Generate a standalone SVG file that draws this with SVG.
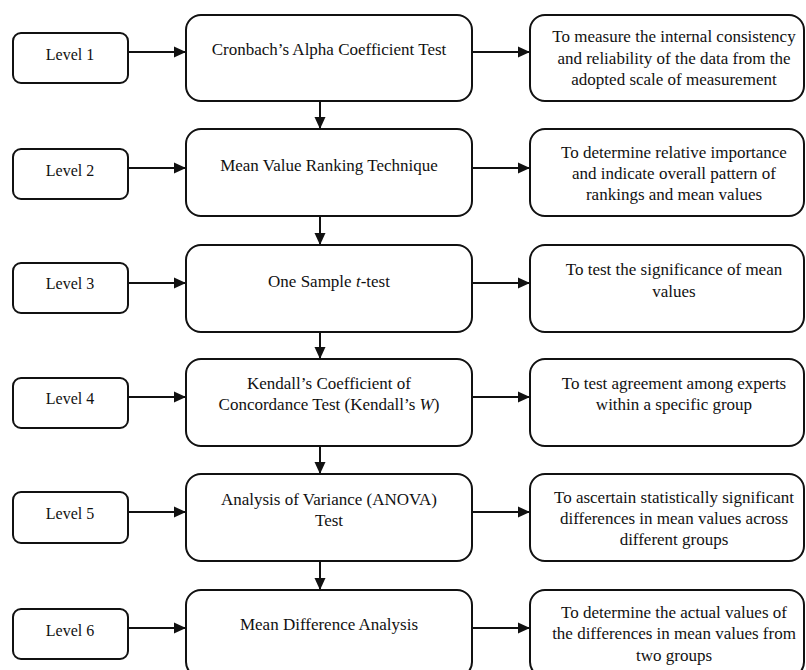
<svg xmlns="http://www.w3.org/2000/svg" width="806" height="670" viewBox="0 0 806 670">
<style>
  .box { fill: #ffffff; stroke: #111111; stroke-width: 2; }
  .t { font-family: "Liberation Serif", "Times New Roman", serif; font-size: 17px; fill: #111111; text-anchor: middle; }
  .lv { font-size: 16px; }
  .conn line { stroke: #111111; stroke-width: 2; }
</style>
<defs>
  <marker id="ah" markerWidth="12" markerHeight="12" viewBox="0 0 12 12" refX="12" refY="6" orient="auto" markerUnits="userSpaceOnUse">
    <path d="M0,0.5 L12,6 L0,11.5 Z" fill="#111111"/>
  </marker>
</defs>
<rect width="806" height="670" fill="#ffffff"/>

<g id="connectors" class="conn">
  <line x1="128" y1="52" x2="186" y2="52" marker-end="url(#ah)"/>
  <line x1="472" y1="52" x2="530" y2="52" marker-end="url(#ah)"/>
  <line x1="128" y1="168" x2="186" y2="168" marker-end="url(#ah)"/>
  <line x1="472" y1="168" x2="530" y2="168" marker-end="url(#ah)"/>
  <line x1="128" y1="283" x2="186" y2="283" marker-end="url(#ah)"/>
  <line x1="472" y1="283" x2="530" y2="283" marker-end="url(#ah)"/>
  <line x1="128" y1="397" x2="186" y2="397" marker-end="url(#ah)"/>
  <line x1="472" y1="397" x2="530" y2="397" marker-end="url(#ah)"/>
  <line x1="128" y1="512" x2="186" y2="512" marker-end="url(#ah)"/>
  <line x1="472" y1="512" x2="530" y2="512" marker-end="url(#ah)"/>
  <line x1="128" y1="628" x2="186" y2="628" marker-end="url(#ah)"/>
  <line x1="472" y1="628" x2="530" y2="628" marker-end="url(#ah)"/>
  <line x1="320" y1="101" x2="320" y2="129" marker-end="url(#ah)"/>
  <line x1="320" y1="216" x2="320" y2="245" marker-end="url(#ah)"/>
  <line x1="320" y1="332" x2="320" y2="359" marker-end="url(#ah)"/>
  <line x1="320" y1="446" x2="320" y2="474" marker-end="url(#ah)"/>
  <line x1="320" y1="561" x2="320" y2="590" marker-end="url(#ah)"/>
</g>

<g id="level1"><rect class="box" x="13" y="33" width="115" height="50" rx="8"/><text class="t lv" x="70" y="60">Level 1</text></g>
<g id="level2"><rect class="box" x="13" y="149" width="115" height="50" rx="8"/><text class="t lv" x="70" y="176">Level 2</text></g>
<g id="level3"><rect class="box" x="13" y="263" width="115" height="50" rx="8"/><text class="t lv" x="70" y="289">Level 3</text></g>
<g id="level4"><rect class="box" x="13" y="378" width="115" height="50" rx="8"/><text class="t lv" x="70" y="404">Level 4</text></g>
<g id="level5"><rect class="box" x="13" y="492" width="115" height="51" rx="8"/><text class="t lv" x="70" y="519">Level 5</text></g>
<g id="level6"><rect class="box" x="13" y="609" width="115" height="50" rx="8"/><text class="t lv" x="70" y="636">Level 6</text></g>

<g id="method1"><rect class="box" x="186" y="15" width="286" height="86" rx="15"/><text class="t" x="329" y="55">Cronbach’s Alpha Coefficient Test</text></g>
<g id="method2"><rect class="box" x="186" y="129" width="286" height="87" rx="15"/><text class="t" x="329" y="171">Mean Value Ranking Technique</text></g>
<g id="method3"><rect class="box" x="186" y="245" width="286" height="87" rx="15"/><text class="t" x="329" y="287">One Sample <tspan font-style="italic">t</tspan>-test</text></g>
<g id="method4"><rect class="box" x="186" y="359" width="286" height="87" rx="15"/><text class="t" x="329" y="389">Kendall’s Coefficient of</text><text class="t" x="329" y="410">Concordance Test (Kendall’s <tspan font-style="italic">W</tspan>)</text></g>
<g id="method5"><rect class="box" x="186" y="474" width="286" height="87" rx="15"/><text class="t" x="329" y="505">Analysis of Variance (ANOVA)</text><text class="t" x="329" y="526">Test</text></g>
<g id="method6"><rect class="box" x="186" y="590" width="286" height="87" rx="15"/><text class="t" x="329" y="630">Mean Difference Analysis</text></g>

<g id="purpose1"><rect class="box" x="530" y="15" width="274" height="86" rx="15"/><text class="t" x="674" y="42">To measure the internal consistency</text><text class="t" x="674" y="63.5">and reliability of the data from the</text><text class="t" x="674" y="85">adopted scale of measurement</text></g>
<g id="purpose2"><rect class="box" x="530" y="129" width="274" height="87" rx="15"/><text class="t" x="674" y="158">To determine relative importance</text><text class="t" x="674" y="179">and indicate overall pattern of</text><text class="t" x="674" y="200">rankings and mean values</text></g>
<g id="purpose3"><rect class="box" x="530" y="245" width="274" height="87" rx="15"/><text class="t" x="674" y="275">To test the significance of mean</text><text class="t" x="674" y="297">values</text></g>
<g id="purpose4"><rect class="box" x="530" y="359" width="274" height="87" rx="15"/><text class="t" x="674" y="389">To test agreement among experts</text><text class="t" x="674" y="410">within a specific group</text></g>
<g id="purpose5"><rect class="box" x="530" y="474" width="274" height="87" rx="15"/><text class="t" x="674" y="503">To ascertain statistically significant</text><text class="t" x="674" y="524">differences in mean values across</text><text class="t" x="674" y="545">different groups</text></g>
<g id="purpose6"><rect class="box" x="530" y="590" width="274" height="87" rx="15"/><text class="t" x="674" y="618">To determine the actual values of</text><text class="t" x="674" y="639">the differences in mean values from</text><text class="t" x="674" y="661">two groups</text></g>
</svg>
